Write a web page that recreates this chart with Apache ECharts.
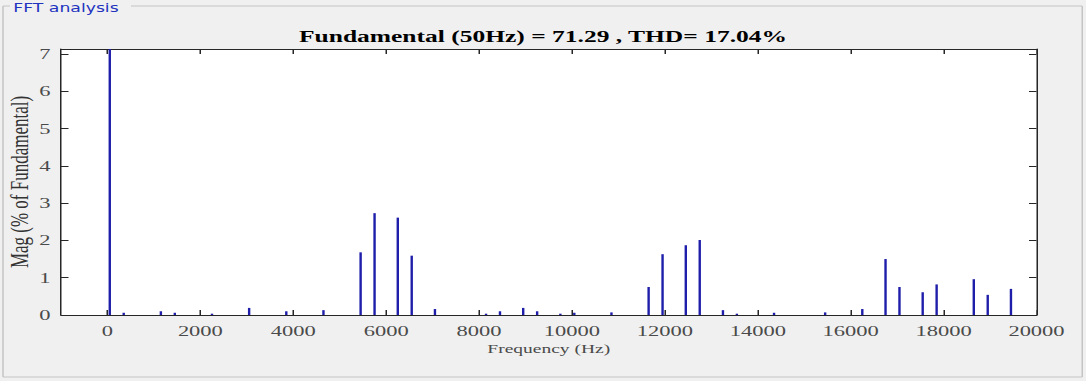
<!DOCTYPE html>
<html>
<head>
<meta charset="utf-8">
<script src="https://cdn.jsdelivr.net/npm/echarts@6/dist/echarts.min.js"></script>
<style>
  html, body { margin: 0; padding: 0; background: #f0f0f0; overflow: hidden; width: 1086px; height: 381px; }
  /* the panel is laid out at 724px and stretched horizontally to fill the window */
  #stage { width: 724px; height: 381px; transform: scaleX(1.5); transform-origin: 0 0; }
</style>
</head>
<body>
<div id="stage"></div>
<script>
// Harmonic frequencies (Hz) and magnitudes (% of fundamental)
const harmonicFreqs = [50, 350, 1150, 1450, 2250, 3050, 3850, 4650, 5450, 5750, 6250, 6550, 7050,
  8150, 8450, 8950, 9250, 9750, 10050, 10850, 11650, 11950, 12450, 12750, 13250, 13550, 14350,
  15450, 16250, 16750, 17050, 17550, 17850, 18650, 18950, 19450];
const harmonicMags = [100, 0.06, 0.10, 0.06, 0.035, 0.19, 0.10, 0.13, 1.68, 2.73, 2.61, 1.59, 0.16,
  0.035, 0.10, 0.19, 0.10, 0.035, 0.06, 0.07, 0.75, 1.63, 1.87, 2.01, 0.13, 0.035, 0.06,
  0.07, 0.16, 1.50, 0.75, 0.61, 0.82, 0.96, 0.54, 0.70];

const freqTicks = [0, 2000, 4000, 6000, 8000, 10000, 12000, 14000, 16000, 18000, 20000];
const magTicks = [0, 1, 2, 3, 4, 5, 6, 7];

const panelTitle = 'FFT analysis';
const chartTitle = 'Fundamental (50Hz) = 71.29 , THD= 17.04%';
const xAxisTitle = 'Frequency (Hz)';
const yAxisTitle = 'Mag (% of Fundamental)';

const serif = '"Liberation Serif", "Times New Roman", serif';
const axisColor = '#262626';
const labelColor = '#4a4a4a';
const frameColor = '#c4c4c4';
const stemColor = '#1e1eaa';
const stemWidth = 1.6;

const stemData = harmonicFreqs.map((f, i) => [f, harmonicMags[i]]);

function freqAxis(position, withLabels) {
  return {
    type: 'value', position, min: -1000, max: 20000,
    axisLine: { show: true, onZero: false, lineStyle: { color: axisColor, width: 1 } },
    axisTick: { show: true, inside: true, length: 5, customValues: freqTicks, lineStyle: { color: axisColor } },
    axisLabel: withLabels
      ? { show: true, customValues: freqTicks, margin: 8, fontFamily: serif, fontSize: 15, color: labelColor,
          formatter: v => String(v) }
      : { show: false },
    splitLine: { show: false }
  };
}

function magAxis(position, withLabels) {
  return {
    type: 'value', position, min: 0, max: 7.13,
    axisLine: { show: true, onZero: false, lineStyle: { color: axisColor, width: 1 } },
    axisTick: { show: true, inside: true, length: 5, customValues: magTicks, lineStyle: { color: axisColor } },
    axisLabel: withLabels
      ? { show: true, customValues: magTicks, margin: 7, fontFamily: serif, fontSize: 15, color: labelColor,
          formatter: v => String(v) }
      : { show: false },
    splitLine: { show: false }
  };
}

const xBottom = Object.assign(freqAxis('bottom', true), {
  name: xAxisTitle, nameLocation: 'middle', nameGap: 27, nameMoveOverlap: false,
  nameTextStyle: { fontFamily: serif, fontSize: 13, color: labelColor }
});
const yLeft = Object.assign(magAxis('left', true), {
  name: yAxisTitle, nameLocation: 'middle', nameGap: 19, nameMoveOverlap: false,
  nameTextStyle: { fontFamily: serif, fontSize: 17, color: '#333' }
});

// stems: a thin rect from the zero line up to each magnitude, cut at the top of the plot
function renderStem(params, api) {
  const base = api.coord([api.value(0), 0]);
  const tip = api.coord([api.value(0), api.value(1)]);
  const topY = Math.max(tip[1], params.coordSys.y);
  return {
    type: 'rect',
    shape: { x: base[0] - stemWidth / 2, y: topY, width: stemWidth, height: base[1] - topY },
    style: { fill: stemColor }
  };
}

const chart = echarts.init(document.getElementById('stage'), null, { renderer: 'svg' });

chart.setOption({
  backgroundColor: '#f0f0f0',
  animation: false,
  title: {
    text: chartTitle, left: 'center', top: 28, padding: 0,
    textStyle: { fontFamily: serif, fontSize: 17, fontWeight: 'bold', color: '#000' }
  },
  grid: {
    left: 40.67, right: 33, top: 49, bottom: 66, outerBoundsMode: 'none',
    show: true, backgroundColor: '#fff', borderWidth: 0
  },
  xAxis: [xBottom, freqAxis('top', false)],
  yAxis: [yLeft, magAxis('right', false)],
  series: [{
    type: 'custom', xAxisIndex: 0, yAxisIndex: 0, data: stemData,
    encode: { x: 0, y: 1 },
    renderItem: renderStem
  }],
  graphic: [
    // group box frame around the analysis panel
    { type: 'line', shape: { x1: 2, y1: 6, x2: 6.7, y2: 6 }, style: { stroke: frameColor, lineWidth: 1 } },
    { type: 'line', shape: { x1: 87.3, y1: 6, x2: 721.5, y2: 6 }, style: { stroke: frameColor, lineWidth: 1 } },
    { type: 'line', shape: { x1: 2, y1: 6, x2: 2, y2: 377 }, style: { stroke: frameColor, lineWidth: 1 } },
    { type: 'line', shape: { x1: 721.5, y1: 6, x2: 721.5, y2: 377 }, style: { stroke: frameColor, lineWidth: 1 } },
    { type: 'line', shape: { x1: 2, y1: 377, x2: 721.5, y2: 377 }, style: { stroke: frameColor, lineWidth: 1 } },
    {
      type: 'text', left: 8.9, top: 1.5,
      style: { text: panelTitle, fill: '#2233c0', font: '11.5px "DejaVu Sans", sans-serif' }
    }
  ]
});
</script>
</body>
</html>
